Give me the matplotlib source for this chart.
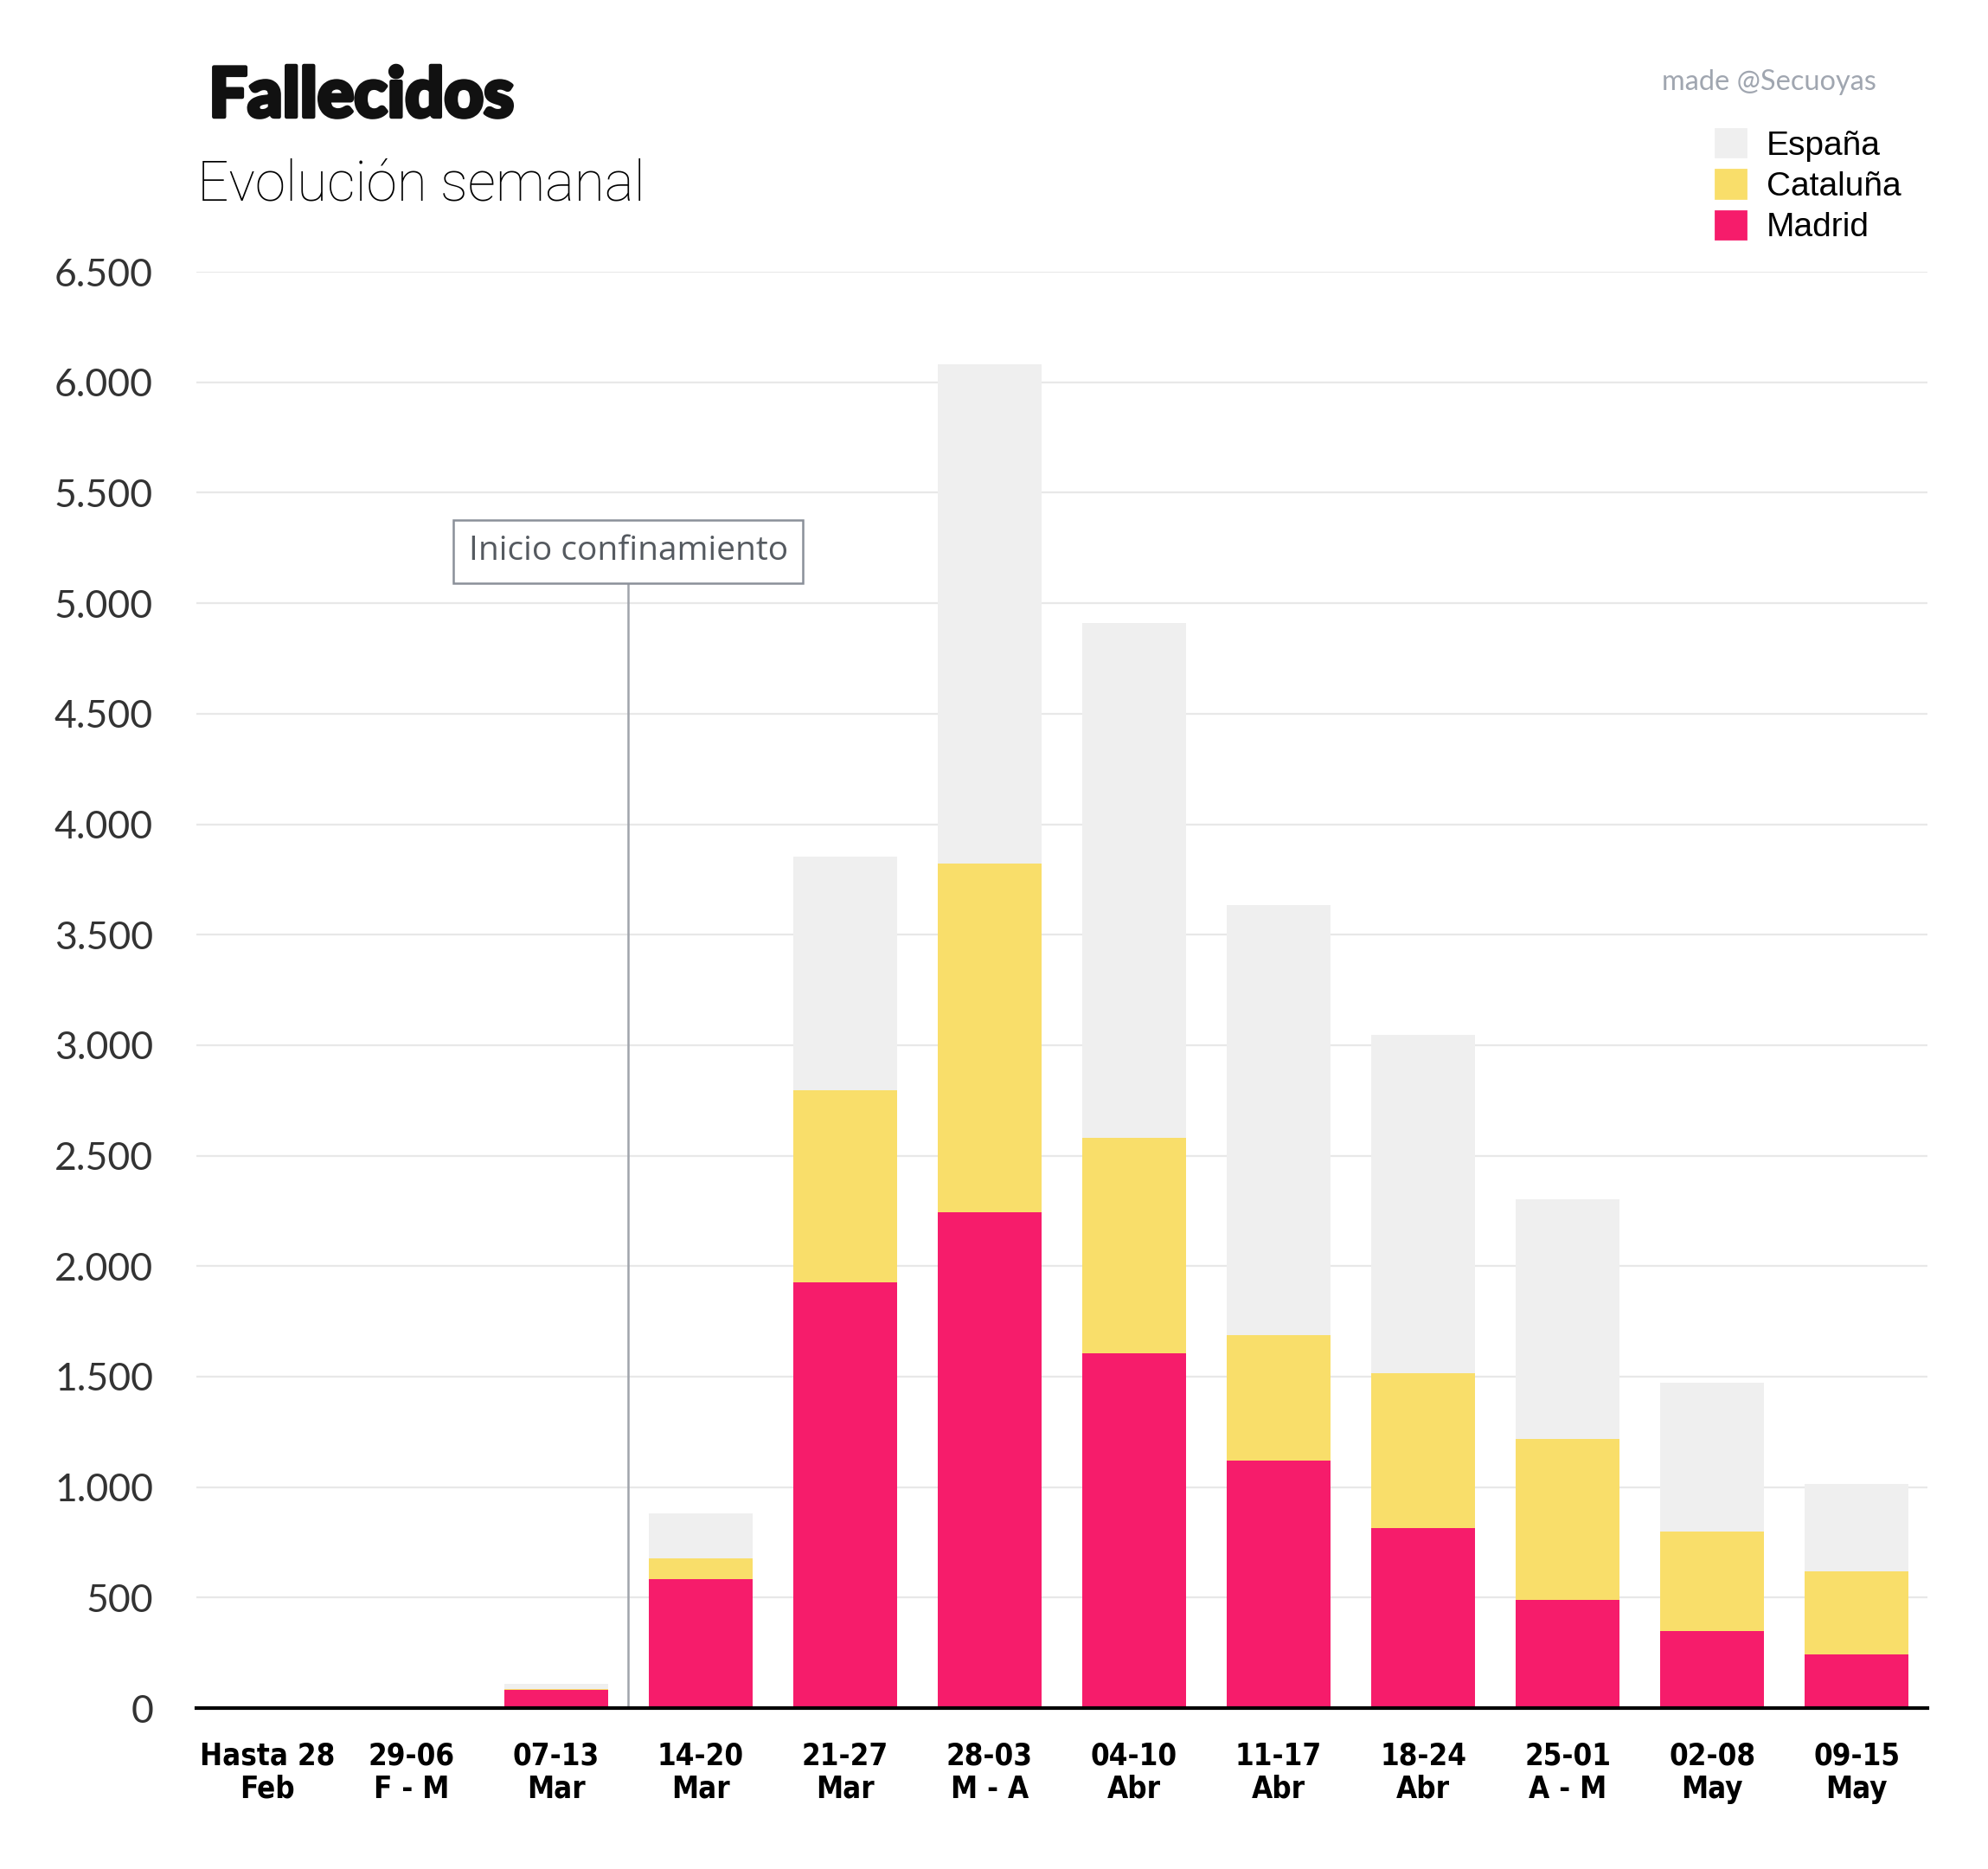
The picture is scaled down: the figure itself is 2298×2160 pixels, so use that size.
import numpy as np
import matplotlib.pyplot as plt
import matplotlib.patheffects as pe
from matplotlib.patches import Patch
from matplotlib.ticker import FuncFormatter

# semanas
semanas = ['Hasta 28\nFeb', '29-06\nF - M', '07-13\nMar', '14-20\nMar', '21-27\nMar', '28-03\nM - A',
           '04-10\nAbr', '11-17\nAbr', '18-24\nAbr', '25-01\nA - M', '02-08\nMay', '09-15\nMay']

# fallecidos por semana (tramos apilados)
madrid = [0, 0, 82, 585, 1928, 2243, 1606, 1119, 815, 488, 350, 241]
cataluna = [0, 0, 5, 92, 866, 1578, 976, 568, 700, 728, 447, 379]
espana = [4, 0, 23, 206, 1061, 2260, 2329, 1945, 1531, 1085, 677, 396]

c_madrid = '#f61c6b'
c_cat = '#f9de6a'
c_esp = '#efefef'

fig = plt.figure(figsize=(11.49, 10.8), dpi=200)
ax = fig.add_axes([0.0988, 0.0861, 0.8707, 0.7685])

x = np.arange(len(semanas))
madrid = np.array(madrid)
cataluna = np.array(cataluna)
espana = np.array(espana)
w = 0.72
ax.bar(x, madrid, w, color=c_madrid, zorder=3)
ax.bar(x, cataluna, w, bottom=madrid, color=c_cat, zorder=3)
ax.bar(x, espana, w, bottom=madrid + cataluna, color=c_esp, zorder=3)

ax.set_xlim(-0.49, 11.49)
ax.set_ylim(0, 6500)
ax.set_yticks(np.arange(0, 6501, 500))
ax.yaxis.set_major_formatter(FuncFormatter(lambda v, p: f'{int(v):,}'.replace(',', '.')))
ax.grid(axis='y', color='#e8e8e8', lw=0.8, zorder=0)
ax.set_axisbelow(True)
for s in ['top', 'right', 'left']:
    ax.spines[s].set_visible(False)
ax.spines['bottom'].set_linewidth(1.5)
ax.spines['bottom'].set_color('black')
ax.spines['bottom'].set_zorder(4)

ax.tick_params(axis='y', length=0, pad=18, labelsize=16, labelcolor='#333333')
ax.tick_params(axis='x', length=0, pad=14)
ax.set_xticks(x)
ax.set_xticklabels(semanas, fontsize=12.5, fontweight='bold', fontstretch='condensed',
                   family=['DejaVu Sans'], linespacing=1.15)
for lab in ax.get_yticklabels():
    lab.set_family(['Lato', 'DejaVu Sans'])

# inicio confinamiento
ax.plot([2.5, 2.5], [0, 5089], color='#a0a4ab', lw=0.9, zorder=2)
ax.text(2.5, 5235, 'Inicio confinamiento', ha='center', va='center', fontsize=14,
        color='#555a60', family=['Open Sans', 'DejaVu Sans'], zorder=5,
        bbox=dict(boxstyle='square,pad=0.45', fc='white', ec='#8a9099', lw=0.9))

t = fig.text(0.105, 0.9375, 'Fallecidos', fontsize=28.5, fontweight='black',
             family=['Lato', 'DejaVu Sans'], color='#111111')
t.set_path_effects([pe.withStroke(linewidth=1.6, foreground='#111111')])
fig.text(0.0994, 0.8928, 'Evolución semanal', fontsize=23, fontweight='light',
         family=['Roboto', 'DejaVu Sans'], color='#000000')
fig.text(0.944, 0.952, 'made @Secuoyas', fontsize=11.7, ha='right',
         family=['Lato', 'DejaVu Sans'], color='#a0a6b0')

handles = [Patch(color=c_esp), Patch(color=c_cat), Patch(color=c_madrid)]
fig.legend(handles, ['España', 'Cataluña', 'Madrid'], loc='upper left',
           bbox_to_anchor=(0.863, 0.931), frameon=False, borderpad=0, borderaxespad=0,
           handlelength=0.9, handleheight=0.9, handletextpad=0.6, labelspacing=0.25,
           prop={'family': ['Liberation Sans', 'DejaVu Sans'], 'size': 14})

fig.savefig('out.png', dpi=200, facecolor='white')
